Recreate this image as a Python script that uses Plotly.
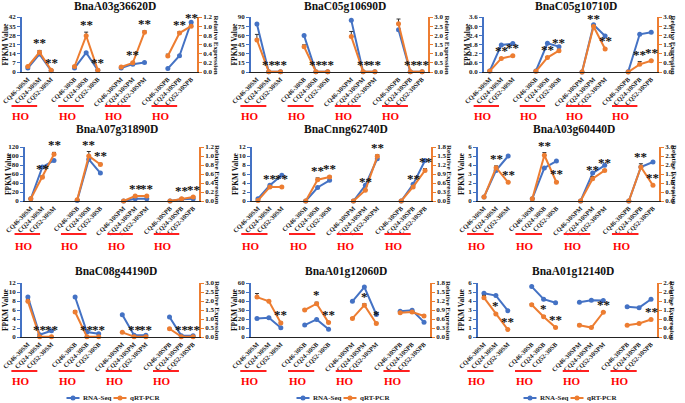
import plotly.graph_objects as go

FONT = "Liberation Serif"
BLUE = "#4472C4"
ORANGE = "#ED7D31"
W, H = 685, 403

groups = ["SM", "SB", "SPM", "SPB"]
lines_ = ["CQ46", "CQ24", "CQ52"]
tick_labels = [f"{l}-30{g}" for g in groups for l in lines_]
slots = [0, 1, 2, 4, 5, 6, 8, 9, 10, 12, 13, 14]
series_names = ["RNA-Seq", "qRT-PCR"]

titles = ["BnaA03g36620D", "BnaC05g10690D", "BnaC05g10710D",
          "BnaA07g31890D", "BnaCnng62740D", "BnaA03g60440D",
          "BnaC08g44190D", "BnaA01g12060D", "BnaA01g12140D"]

rna_1 = [3.0, 13.7, 1.0, 3.0, 14.7, 1.3, 3.0, 6.0, 7.2, 2.6, 12.4, 38.0]
qpcr_1 = [0.12, 0.43, 0.04, 0.12, 0.79, 0.04, 0.11, 0.20, 0.87, 0.35, 0.85, 1.0]
err_1 = [0.01, 0.04, 0.01, 0.01, 0.08, 0.01, 0.01, 0.02, 0.03, 0.04, 0.03, 0.03]

rna_2 = [78.4, 0.3, 0.3, 59.6, 0.3, 0.3, 84.5, 0.3, 0.3, 69.0, 0.3, 0.3]
qpcr_2 = [1.75, 0.02, 0.02, 1.38, 0.02, 0.02, 1.93, 0.02, 0.02, 2.63, 0.02, 0.02]
err_2 = [0.3, 0, 0, 0.1, 0, 0, 0.28, 0, 0, 0.26, 0, 0]

rna_3 = [0.07, 1.77, 1.86, 0.07, 1.88, 1.66, 0.0, 3.09, 2.36, 0.02, 2.47, 2.6]
qpcr_3 = [0.05, 0.74, 0.88, 0.04, 0.79, 1.16, 0.0, 2.48, 1.25, 0.0, 0.42, 0.61]
err_3 = [0.01, 0.03, 0.03, 0.01, 0.03, 0.04, 0, 0.05, 0.04, 0, 0.15, 0.03]

rna_4 = [5, 75.5, 90, 1, 92.6, 62, 0, 5, 5, 0, 4, 5]
qpcr_4 = [0.05, 0.53, 1.04, 0.03, 1.0, 0.81, 0, 0.11, 0.11, 0, 0.05, 0.09]
err_4 = [0, 0.03, 0.04, 0, 0.1, 0.03, 0, 0.01, 0.01, 0, 0.01, 0.01]

rna_5 = [0.5, 3.5, 5.7, 0, 3.0, 4.6, 0, 3.5, 9.4, 0, 3.7, 9.0]
qpcr_5 = [0.02, 0.47, 0.47, 0, 0.71, 0.8, 0, 0.36, 1.49, 0, 0.47, 1.02]
err_5 = [0, 0.02, 0.02, 0, 0.06, 0.03, 0, 0.03, 0.05, 0, 0.04, 0.06]

rna_6 = [0.45, 3.4, 5.0, 0.26, 3.67, 4.44, 0, 3.1, 3.96, 0, 3.78, 4.33]
qpcr_6 = [0.22, 1.85, 1.04, 0.13, 2.54, 1.04, 0, 1.24, 1.7, 0, 1.89, 0.87]
err_6 = [0.02, 0.1, 0.04, 0.02, 0.15, 0.05, 0, 0.12, 0.05, 0, 0.18, 0.04]

rna_7 = [8.9, 0.5, 1.4, 8.9, 1.1, 0.74, 4.96, 0.37, 0.37, 4.44, 0.3, 0.3]
qpcr_7 = [1.98, 0.02, 0.02, 1.39, 0.02, 0.02, 0.26, 0.02, 0.02, 0.46, 0.02, 0.02]
err_7 = [0.1, 0, 0, 0.08, 0, 0, 0.02, 0, 0, 0.03, 0, 0]

rna_8 = [20.6, 21.3, 10.3, 13.2, 19.5, 8.5, 39.7, 55.5, 25, 28.7, 29.8, 16.5]
qpcr_8 = [1.33, 1.19, 0.47, 0.9, 1.11, 0.48, 0.62, 1.06, 0.45, 0.81, 0.83, 0.7]
err_8 = [0.12, 0.03, 0.03, 0.03, 0.05, 0.03, 0.03, 0.05, 0.04, 0.02, 0.02, 0.03]

rna_9 = [4.87, 4.6, 2.92, 5.6, 4.2, 3.8, 3.86, 4.08, 4.05, 3.37, 3.26, 4.2]
qpcr_9 = [1.75, 1.02, 0.33, 1.43, 0.9, 0.42, 0.52, 0.42, 1.1, 0.52, 0.6, 0.78]
err_9 = [0.1, 0.03, 0.02, 0.05, 0.04, 0.02, 0.05, 0.02, 0.03, 0.02, 0.02, 0.03]

all8 = [(1, "**"), (2, "**"), (4, "**"), (5, "**"), (7, "**"), (8, "**"), (10, "**"), (11, "**")]
stars = [all8, all8, all8, all8, all8, all8, all8,
         [(2, "**"), (4, "*"), (5, "**"), (7, "*"), (8, "*")],
         [(1, "*"), (2, "**"), (4, "*"), (5, "**"), (8, "**"), (11, "**")]]

left_ranges = [(42, 7), (90, 15), (3.6, 0.6), (120, 20), (12, 2), (6, 1), (12, 2), (60, 10), (6, 1)]
right_ranges = [(1.2, 0.2), (3.0, 0.5), (3.0, 0.5), (1.2, 0.2), (1.8, 0.3), (3.0, 0.5), (3.0, 0.5), (1.8, 0.3), (2.4, 0.4)]
left_dec = [0, 0, 1, 0, 0, 0, 0, 0, 0]

rna = [rna_1, rna_2, rna_3, rna_4, rna_5, rna_6, rna_7, rna_8, rna_9]
qpcr = [qpcr_1, qpcr_2, qpcr_3, qpcr_4, qpcr_5, qpcr_6, qpcr_7, qpcr_8, qpcr_9]
errs = [err_1, err_2, err_3, err_4, err_5, err_6, err_7, err_8, err_9]

# panel geometry in pixels (left, right) and rows (top, bottom)
px_x = [(22, 197), (251, 428), (484, 657),
        (25, 199), (252, 431), (478, 659),
        (22, 199), (251, 430), (478, 657)]
row_y = [(17, 72), (147, 201), (283, 337)]
red_y = [106, 234, 371]
ho_y = [116, 246, 381]
title_y = [6, 130, 271]
legend_y = 398


def gap(vals):
    xs, ys = [], []
    for g in range(4):
        for k in range(3):
            xs.append(slots[3 * g + k])
            ys.append(vals[3 * g + k])
        if g < 3:
            xs.append(None)
            ys.append(None)
    return xs, ys


def ticks(mx, step, dec):
    n = int(round(mx / step))
    vals = [round(step * j, 6) for j in range(n + 1)]
    return vals, [f"{v:.{dec}f}" for v in vals]


fig = go.Figure()
layout = {}
annotations = []
shapes = []


def fx(p):
    return p / W


def fy(p):
    return 1 - p / H


for i in range(9):
    k = i + 1
    r = i // 3
    xl, xr = px_x[i]
    yt, yb = row_y[r]
    xname = "x" if k == 1 else f"x{k}"
    yl = "y" if k == 1 else f"y{k}"
    yr = f"y{k + 9}"

    xs, ys = gap(rna[i])
    fig.add_trace(go.Scatter(x=xs, y=ys, xaxis=xname, yaxis=yl, mode="lines+markers",
                             line=dict(color=BLUE, width=2), marker=dict(color=BLUE, size=5),
                             name=series_names[0], showlegend=False,
                             cliponaxis=False, connectgaps=False))
    xs2, ys2 = gap(qpcr[i])
    _, es = gap(errs[i])
    fig.add_trace(go.Scatter(x=xs2, y=ys2, xaxis=xname, yaxis=yr, mode="lines+markers",
                             line=dict(color=ORANGE, width=2), marker=dict(color=ORANGE, size=5),
                             error_y=dict(type="data", array=es, symmetric=False,
                                          arrayminus=[0 if e is not None else None for e in es],
                                          color="#333333", thickness=1, width=2),
                             name=series_names[1], showlegend=False,
                             cliponaxis=False, connectgaps=False))

    axfont = dict(family=FONT, size=7, color="#222222", weight="bold")
    layout[f"xaxis{k if k > 1 else ''}"] = dict(
        domain=[fx(xl), fx(xr)], anchor=yl, range=[-0.5, 14.5],
        tickmode="array", tickvals=slots, ticktext=tick_labels, tickangle=-45,
        tickfont=dict(family=FONT, size=6.5, color="#222222", weight="bold"),
        showline=True, linecolor="#222222", linewidth=1, ticks="", showgrid=False, zeroline=False)
    lm, ld = left_ranges[i]
    lv, lt = ticks(lm, ld, left_dec[i])
    layout[f"yaxis{k if k > 1 else ''}"] = dict(
        domain=[fy(yb), fy(yt)], anchor=xname, range=[0, lm],
        tickmode="array", tickvals=lv, ticktext=lt,
        showline=True, linecolor=BLUE, linewidth=1.5,
        ticks="outside", ticklen=3, tickcolor=BLUE, tickfont=axfont,
        showgrid=False, zeroline=False)
    rm, rd = right_ranges[i]
    rv, rt = ticks(rm, rd, 1)
    layout[f"yaxis{k + 9}"] = dict(
        overlaying=yl, side="right", anchor=xname, range=[0, rm],
        tickmode="array", tickvals=rv, ticktext=rt,
        showline=True, linecolor=ORANGE, linewidth=1.5,
        ticks="outside", ticklen=3, tickcolor=ORANGE, tickfont=axfont,
        showgrid=False, zeroline=False)

    annotations.append(dict(text=titles[i], xref="paper", yref="paper",
                            x=fx((xl + xr) / 2 + 5), y=fy(title_y[r]), showarrow=False,
                            xanchor="center", yanchor="middle",
                            font=dict(family=FONT, size=11.5, color="#111111", weight="bold")))
    annotations.append(dict(text="FPKM Value", xref="paper", yref="paper",
                            x=fx(xl - 17), y=fy((yt + yb) / 2), showarrow=False, textangle=-90,
                            xanchor="center", yanchor="middle",
                            font=dict(family=FONT, size=7.5, color="#111111", weight="bold")))
    rt_off = 15 if i % 3 == 2 else 18
    annotations.append(dict(text="Relative Expression", xref="paper", yref="paper",
                            x=fx(xr + rt_off), y=fy((yt + yb) / 2), showarrow=False, textangle=90,
                            xanchor="center", yanchor="middle",
                            font=dict(family=FONT, size=7, color="#111111", weight="bold")))
    for idx, s in stars[i]:
        annotations.append(dict(text=s, x=slots[idx], y=qpcr[i][idx] + errs[i][idx],
                                xref=xname, yref=yr, showarrow=False, xanchor="center",
                                yanchor="bottom", yshift=-2,
                                font=dict(family=FONT, size=13, color="#111111", weight="bold")))

    def slot_px(s, xl=xl, xr=xr):
        return xl + (s + 0.5) / 15 * (xr - xl)

    for g in range(4):
        s0 = 4 * g
        shapes.append(dict(type="line", xref="paper", yref="paper",
                           x0=fx(slot_px(s0 - 1.4)), x1=fx(slot_px(s0 + 0.8)),
                           y0=fy(red_y[r]), y1=fy(red_y[r]),
                           line=dict(color="#FF2020", width=2)))
        annotations.append(dict(text="HO", xref="paper", yref="paper",
                                x=fx(slot_px(s0 - 0.6)), y=fy(ho_y[r]), showarrow=False,
                                xanchor="center", yanchor="middle",
                                font=dict(family=FONT, size=11, color="#FF0000", weight="bold")))

    # legend key under each bottom-row panel
    if r == 2:
        cx = (xl + xr) / 2
        for name, color, lx in [(series_names[0], BLUE, cx - 44), (series_names[1], ORANGE, cx + 3)]:
            shapes.append(dict(type="line", xref="paper", yref="paper",
                               x0=fx(lx), x1=fx(lx + 13), y0=fy(legend_y), y1=fy(legend_y),
                               line=dict(color=color, width=2)))
            shapes.append(dict(type="circle", xref="paper", yref="paper",
                               x0=fx(lx + 4), x1=fx(lx + 9), y0=fy(legend_y + 2.5),
                               y1=fy(legend_y - 2.5), fillcolor=color, line=dict(width=0)))
            annotations.append(dict(text=name, xref="paper", yref="paper",
                                    x=fx(lx + 14), y=fy(legend_y), showarrow=False,
                                    xanchor="left", yanchor="middle",
                                    font=dict(family=FONT, size=7, color="#222222", weight="bold")))

fig.update_layout(**layout)
fig.update_layout(width=W, height=H, margin=dict(l=0, r=0, t=0, b=0, autoexpand=False),
                  paper_bgcolor="white", plot_bgcolor="white", showlegend=False,
                  font=dict(family=FONT), annotations=annotations, shapes=shapes)
fig.write_html("out.html", config={"displayModeBar": False},
               post_script="document.body.style.margin='0';document.body.style.overflow='hidden';")
